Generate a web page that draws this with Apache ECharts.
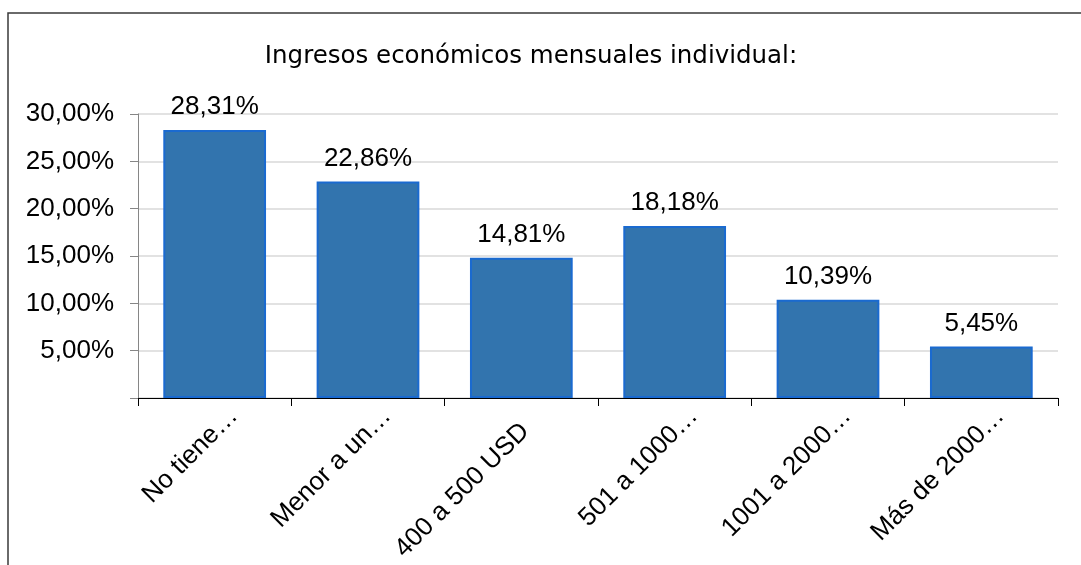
<!DOCTYPE html>
<html lang="es">
<head>
    <meta charset="UTF-8">
    <script src="https://cdn.jsdelivr.net/npm/echarts@6/dist/echarts.min.js"></script>
    <title>Ingresos económicos mensuales individual</title>
</head>
<body style="margin:0">
    <div id="chart" style="width:1081px;height:565px;background:#fff"></div>
</body>
</html>
<script type="text/javascript">
    // the untruncated label sits a little back from the tick, as in the source
    var categories = ['No tiene…', 'Menor a un…', '400 a 500 USD   ', '501 a 1000…', '1001 a 2000…', 'Más de 2000…'];
    var values = [28.31, 22.86, 14.81, 18.18, 10.39, 5.45];

    function pct(v) {
        return v.toFixed(2).replace('.', ',') + '%';
    }

    var myChart = echarts.init(document.getElementById('chart'));
    var option = {
        animation: false,
        title: {
            text: 'Ingresos económicos mensuales individual:',
            left: 526,
            textAlign: 'center',
            top: 39,
            textStyle: {
                fontFamily: 'DejaVu Sans',
                fontWeight: 'normal',
                fontSize: 24.5,
                color: '#000'
            }
        },
        graphic: [{
            type: 'rect',
            shape: { x: 8, y: 13, width: 1200, height: 700 },
            style: { fill: 'none', stroke: '#3a3a3a', lineWidth: 1.5 },
            silent: true
        }],
        grid: { left: 138, right: 23, top: 114, bottom: 167, outerBoundsMode: 'none', containLabel: false },
        xAxis: {
            type: 'category',
            data: categories,
            axisLine: { lineStyle: { color: '#000', width: 1 } },
            axisTick: { show: true, length: 8, lineStyle: { color: '#000' } },
            axisLabel: {
                rotate: 45,
                interval: 0,
                margin: -5,
                verticalAlign: 'top',
                lineHeight: 54,
                fontFamily: 'Liberation Sans',
                fontSize: 26,
                color: '#000'
            }
        },
        yAxis: {
            type: 'value',
            min: 0,
            max: 30,
            interval: 5,
            axisLine: { show: true, lineStyle: { color: '#868686' } },
            axisTick: { show: true, length: 8, lineStyle: { color: '#868686' } },
            splitLine: { lineStyle: { color: '#d9d9d9', width: 1.5 } },
            axisLabel: {
                margin: 24,
                fontFamily: 'Liberation Sans',
                fontSize: 26,
                color: '#000',
                formatter: function (v) { return v === 0 ? '' : pct(v); }
            }
        },
        series: [{
            type: 'bar',
            data: values,
            barWidth: '67%',
            itemStyle: { color: '#3274ae', borderColor: '#1a6ad0', borderWidth: 2 },
            label: {
                show: true,
                position: 'top',
                distance: 10,
                fontFamily: 'Liberation Sans',
                fontSize: 26,
                color: '#000',
                formatter: function (p) { return pct(p.value); }
            }
        }]
    };
    myChart.setOption(option);
</script>
